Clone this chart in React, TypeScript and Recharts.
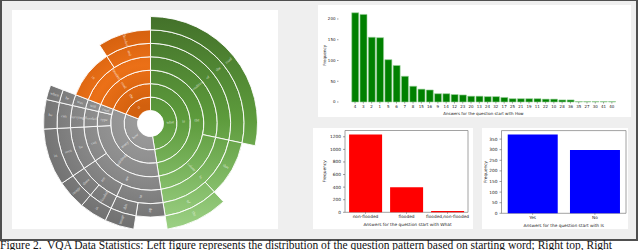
import { Bar, BarChart, Cell, Pie, PieChart, ReferenceArea, XAxis, YAxis } from 'recharts';

// --- bar charts (right side) ---
const howAnswers = ['4', '3', '2', '1', '5', '6', '7', '8', '15', '16', '9', '14', '12', '23', '20', '13', '24', '32', '17', '25', '21', '19', '11', '22', '10', '28', '36', '35', '27', '30', '41', '40'];
const howCounts = [215, 211, 156, 155, 102, 88, 62, 38, 31, 29, 20, 20, 18, 17, 14, 14, 13, 13, 11, 8, 8, 8, 8, 7, 7, 5, 5, 1, 1, 1, 1, 1];
const howTicks = [0, 50, 100, 150, 200];

const whatAnswers = ['non-flooded', 'flooded', 'flooded,non-flooded'];
const whatCounts = [1238, 397, 20];
const whatTicks = [0, 200, 400, 600, 800, 1000, 1200];

const isAnswers = ['Yes', 'No'];
const isCounts = [372, 298];
const isTicks = [0, 50, 100, 150, 200, 250, 300, 350];

// --- sunburst (left side): question patterns by starting word ---
type SunNode = { name: string; size?: number; children?: SunNode[] };

const whatTree: SunNode = {
  name: 'what',
  children: [{ name: 'is', children: [{ name: 'the', children: [
    { name: 'condition', children: [{ name: 'of', children: [{ name: 'the', children: [{ name: 'road', size: 1020 }] }] }] },
    { name: 'colour', children: [{ name: 'is', children: [
      { name: 'that', size: 350 },
      { name: 'of', children: [{ name: 'the', size: 340 }] },
    ] }] },
  ] }] }],
};

const howTree: SunNode = {
  name: 'how',
  children: [{ name: 'many', children: [
    { name: 'buildings', children: [
      { name: 'are', children: [
        { name: 'in', children: [
          { name: 'the', size: 180 },
          { name: 'this', children: [{ name: 'image', size: 160 }] },
        ] },
        { name: 'are', children: [
          { name: 'flooded', children: [{ name: 'in', size: 150 }] },
          { name: 'there', children: [{ name: 'image', size: 160 }] },
        ] },
      ] },
      { name: 'can', children: [{ name: 'be', children: [{ name: 'seen', children: [{ name: 'in', size: 310 }] }] }] },
    ] },
    { name: 'type', children: [{ name: 'flooded', children: [{ name: 'hurrying', children: [{ name: 'can', children: [{ name: 'be', size: 160 }] }] }] }] },
    { name: 'road', children: [{ name: 'will', children: [{ name: 'was', children: [{ name: 'be', children: [{ name: 'when', size: 80 }] }] }] }] },
  ] }],
};

const isTree: SunNode = {
  name: 'is',
  children: [{ name: 'the', children: [{ name: 'road', children: [{ name: 'flooded', children: [
    { name: 'in', size: 360 },
    { name: 'and', children: [{ name: 'flooded', size: 330 }] },
  ] }] }] }],
};

const sunburst = [whatTree, howTree, isTree];

const groupFill: Record<string, string> = {
  what: 'url(#sbGreen)',
  how: 'url(#sbGray)',
  is: 'url(#sbOrange)',
};

const nodeTotal = (n: SunNode): number =>
  n.children ? n.children.reduce((acc, c) => acc + nodeTotal(c), 0) : n.size ?? 0;

const nodeDepth = (n: SunNode): number =>
  n.children ? 1 + Math.max(...n.children.map(nodeDepth)) : 1;

type RingSlice = { name: string; value: number; group: string };

const ringSlices = (depth: number): RingSlice[] => {
  const out: RingSlice[] = [];
  const walk = (n: SunNode, level: number, group: string) => {
    if (level === depth) out.push({ name: n.name, value: nodeTotal(n), group });
    else if (n.children) n.children.forEach((c) => walk(c, level + 1, group));
    else out.push({ name: '', value: nodeTotal(n), group: 'gap' });
  };
  sunburst.forEach((root) => walk(root, 0, root.name));
  return out;
};

const SUN_CX = 133.5;
const SUN_CY = 108.5;
const HOLE = 13;
const RING = 13.43;
const RAD = Math.PI / 180;

const sunLabel = (p: any) => {
  if (p.group === 'gap' || !p.name) return null;
  const r = (p.innerRadius + p.outerRadius) / 2;
  const x = p.cx + r * Math.cos(-p.midAngle * RAD);
  const y = p.cy + r * Math.sin(-p.midAngle * RAD);
  let rot = -p.midAngle;
  if (Math.cos(p.midAngle * RAD) < 0) rot += 180;
  return (
    <text
      x={x}
      y={y}
      transform={`rotate(${rot} ${x} ${y})`}
      textAnchor="middle"
      dominantBaseline="central"
      fontSize={4}
      fill="#fff"
      fillOpacity={0.75}
    >
      {p.name}
    </text>
  );
};

const Sunburst: React.FC = () => {
  const depth = Math.max(...sunburst.map(nodeDepth));
  return (
    <PieChart width={266} height={219}>
      <defs>
        <linearGradient id="sbGreen" gradientUnits="userSpaceOnUse" x1={0} y1={1.5} x2={0} y2={215.5}>
          <stop offset="0" stopColor="#426f29" />
          <stop offset="0.5" stopColor="#5d9b3c" />
          <stop offset="1" stopColor="#9acf82" />
        </linearGradient>
        <radialGradient id="sbGray" gradientUnits="userSpaceOnUse" cx={SUN_CX} cy={SUN_CY} r={107}>
          <stop offset="0.1" stopColor="#9b9b9b" />
          <stop offset="0.55" stopColor="#8a8a8a" />
          <stop offset="1" stopColor="#727272" />
        </radialGradient>
        <radialGradient id="sbOrange" gradientUnits="userSpaceOnUse" cx={SUN_CX} cy={SUN_CY} r={107}>
          <stop offset="0.12" stopColor="#d2600e" />
          <stop offset="0.5" stopColor="#eb7017" />
          <stop offset="0.9" stopColor="#d15e0d" />
        </radialGradient>
      </defs>
      {Array.from({ length: depth }, (_, d) => {
        const slices = ringSlices(d);
        return (
          <Pie
            key={d}
            data={slices}
            dataKey="value"
            nameKey="name"
            cx={SUN_CX}
            cy={SUN_CY}
            innerRadius={HOLE + d * RING}
            outerRadius={HOLE + (d + 1) * RING}
            startAngle={90}
            endAngle={-270}
            stroke="#ffffff"
            strokeWidth={0.9}
            label={sunLabel}
            labelLine={false}
            isAnimationActive={false}
          >
            {slices.map((s, i) => (
              <Cell
                key={i}
                fill={s.group === 'gap' ? 'none' : groupFill[s.group]}
                stroke={s.group === 'gap' ? 'none' : '#ffffff'}
              />
            ))}
          </Pie>
        );
      })}
    </PieChart>
  );
};

const yTitle = (dx: number, size: number) => (props: any) => {
  const vb = props.viewBox;
  const x = vb.x + dx;
  const y = vb.y + vb.height / 2;
  return (
    <text
      x={x}
      y={y}
      transform={`rotate(-90 ${x} ${y})`}
      textAnchor="middle"
      dominantBaseline="central"
      fontSize={size}
      fill="#222"
    >
      Frequency
    </text>
  );
};

const font = 'DejaVu Sans';

const HowChart: React.FC = () => {
  const data = howAnswers.map((answer, i) => ({ answer, count: howCounts[i] }));
  return (
    <BarChart
      width={313}
      height={112}
      data={data}
      margin={{ top: 3.6, right: 2.6, bottom: 2, left: 6.5 }}
      barCategoryGap="10%"
      style={{ fontFamily: font }}
    >
      <XAxis
        dataKey="answer"
        interval={0}
        height={13}
        axisLine={false}
        tickSize={1.5}
        tickMargin={1.2}
        tickLine={{ stroke: '#444', strokeWidth: 0.5 }}
        tick={{ fontSize: 4, fill: '#222' }}
        padding={{ left: 12.4, right: 12.4 }}
        label={{ value: 'Answers for the question start with How', position: 'insideBottom', offset: 0, fontSize: 4, fill: '#222' }}
      />
      <YAxis
        domain={[0, 225]}
        ticks={howTicks}
        width={14}
        axisLine={false}
        tickSize={1.5}
        tickMargin={1.5}
        tickLine={{ stroke: '#444', strokeWidth: 0.5 }}
        tick={{ fontSize: 4, fill: '#222' }}
        label={{ content: yTitle(0.5, 4) }}
      />
      <Bar dataKey="count" fill="#008000" stroke="#9fd49f" strokeWidth={0.6} isAnimationActive={false} />
    </BarChart>
  );
};

const WhatChart: React.FC = () => {
  const data = whatAnswers.map((answer, i) => ({ answer, count: whatCounts[i] }));
  return (
    <BarChart
      width={160}
      height={101}
      data={data}
      margin={{ top: 2.5, right: 3, bottom: 2.7, left: 16 }}
      barCategoryGap="10%"
      style={{ fontFamily: font }}
    >
      <XAxis
        dataKey="answer"
        interval={0}
        height={14}
        axisLine={false}
        tickSize={1.5}
        tickMargin={1.5}
        tickLine={{ stroke: '#444', strokeWidth: 0.5 }}
        tick={{ fontSize: 4.3, fill: '#222' }}
        padding={{ left: 0, right: 2 }}
        label={{ value: 'Answers for the question start with What', position: 'insideBottom', offset: 0, fontSize: 4.3, fill: '#222' }}
      />
      <YAxis
        domain={[0, 1300]}
        ticks={whatTicks}
        width={16}
        axisLine={false}
        tickSize={2}
        tickMargin={2}
        tickLine={{ stroke: '#444', strokeWidth: 0.5 }}
        tick={{ fontSize: 4.3, fill: '#222' }}
        label={{ content: yTitle(-4, 4.3) }}
      />
      <Bar dataKey="count" fill="#ff0000" isAnimationActive={false} />
      <ReferenceArea y1={0} y2={1300} fill="none" stroke="#8a8a8a" strokeWidth={0.8} />
    </BarChart>
  );
};

const IsChart: React.FC = () => {
  const data = isAnswers.map((answer, i) => ({ answer, count: isCounts[i] }));
  return (
    <BarChart
      width={146}
      height={101}
      data={data}
      margin={{ top: 2.6, right: 2, bottom: 1.7, left: 6.5 }}
      barCategoryGap="10%"
      style={{ fontFamily: font }}
    >
      <XAxis
        dataKey="answer"
        interval={0}
        height={14}
        axisLine={false}
        tickSize={1.5}
        tickMargin={1.5}
        tickLine={{ stroke: '#444', strokeWidth: 0.5 }}
        tick={{ fontSize: 4.3, fill: '#222' }}
        label={{ value: 'Answers for the question start with Is', position: 'insideBottom', offset: 0, fontSize: 4.3, fill: '#222' }}
      />
      <YAxis
        domain={[0, 390]}
        ticks={isTicks}
        width={13}
        axisLine={false}
        tickSize={2}
        tickMargin={2}
        tickLine={{ stroke: '#444', strokeWidth: 0.5 }}
        tick={{ fontSize: 4.3, fill: '#222' }}
        label={{ content: yTitle(-2.8, 4.3) }}
      />
      <Bar dataKey="count" fill="#0000ff" isAnimationActive={false} />
      <ReferenceArea y1={0} y2={390} fill="none" stroke="#8a8a8a" strokeWidth={0.8} />
    </BarChart>
  );
};

const panel = (left: number, top: number, width: number, height: number): React.CSSProperties => ({
  position: 'absolute',
  left,
  top,
  width,
  height,
  background: '#ffffff',
});

export default function App() {
  return (
    <div style={{ position: 'absolute', left: 0, top: 0, width: 640, height: 250, overflow: 'hidden', background: '#fff' }}>
      <div
        style={{
          position: 'absolute',
          left: 0,
          top: 0,
          width: 638,
          height: 241,
          boxSizing: 'border-box',
          background: '#efefef',
          borderStyle: 'solid',
          borderColor: '#4f4f4f',
          borderWidth: '1px 2px 2px 2px',
        }}
      />
      <div style={panel(12, 10, 266, 219)}>
        <Sunburst />
      </div>
      <div style={panel(318, 5, 313, 112)}>
        <HowChart />
      </div>
      <div style={panel(313, 128, 160, 101)}>
        <WhatChart />
      </div>
      <div style={panel(482, 128, 146, 101)}>
        <IsChart />
      </div>
      <div
        style={{
          position: 'absolute',
          left: 0,
          top: 240,
          fontFamily: '"Liberation Serif", serif',
          fontSize: 11.5,
          lineHeight: '11px',
          whiteSpace: 'nowrap',
          color: '#111',
        }}
      >
        Figure 2.&nbsp; VQA Data Statistics: Left figure represents the distribution of the question pattern based on starting word; Right top, Right
      </div>
    </div>
  );
}
